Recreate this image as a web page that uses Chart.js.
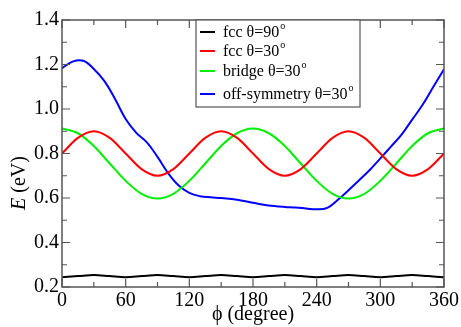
<!DOCTYPE html>
<html>
<head>
<meta charset="utf-8">
<script src="https://cdn.jsdelivr.net/npm/chart.js@4/dist/chart.umd.min.js"></script>
<style>
  html, body { margin: 0; padding: 0; background: #fff; }
  #wrap { width: 461px; height: 327px; }
</style>
</head>
<body>
<div id="wrap"><canvas id="energyGraph"></canvas></div>
<script>
// phi in degrees, energies in eV
const phi = [0, 15, 30, 45, 60, 75, 90, 105, 120, 135, 150, 165, 180,
             195, 210, 225, 240, 255, 270, 285, 300, 315, 330, 345, 360];
const fcc90 = [0.244, 0.249, 0.254, 0.249, 0.244, 0.249, 0.254, 0.249, 0.244, 0.249, 0.254, 0.249, 0.244,
               0.249, 0.254, 0.249, 0.244, 0.249, 0.254, 0.249, 0.244, 0.249, 0.254, 0.249, 0.244];
const fcc30 = [0.80, 0.87, 0.90, 0.87, 0.80, 0.73, 0.70, 0.73, 0.80, 0.87, 0.90, 0.87, 0.80,
               0.73, 0.70, 0.73, 0.80, 0.87, 0.90, 0.87, 0.80, 0.73, 0.70, 0.73, 0.80];
const bridge30 = [0.912, 0.891, 0.834, 0.755, 0.677, 0.619, 0.598, 0.619, 0.677, 0.755, 0.834, 0.891, 0.912,
                  0.891, 0.834, 0.755, 0.677, 0.619, 0.598, 0.619, 0.677, 0.755, 0.834, 0.891, 0.912];
// off-symmetry curve is read on a finer 10 degree grid
const phiOff = [0, 10, 20, 30, 40, 50, 60, 70, 80, 90, 100, 110, 120, 130, 140, 150, 160, 170, 180,
                190, 200, 210, 220, 230, 240, 250, 260, 270, 280, 290, 300, 310, 320, 330, 340, 350, 360];
const offSym30 = [1.183, 1.213, 1.217, 1.18, 1.125, 1.045, 0.955, 0.893, 0.850, 0.785, 0.712, 0.656, 0.623,
                  0.608, 0.603, 0.600, 0.595, 0.588, 0.579, 0.570, 0.564, 0.560, 0.557, 0.553, 0.549,
                  0.556, 0.592, 0.635, 0.680, 0.726, 0.778, 0.831, 0.885, 0.952, 1.02, 1.10, 1.178];

const seriesLabels = ['fcc θ=90', 'fcc θ=30', 'bridge θ=30', 'off-symmetry θ=30'];
const seriesColors = ['#000000', '#ff0000', '#00ee00', '#0000ff'];
const xTicks = [0, 60, 120, 180, 240, 300, 360];
const yTicks = [0.2, 0.4, 0.6, 0.8, 1.0, 1.2, 1.4];

const serif = "'Liberation Serif', 'DejaVu Serif', serif";
const frameColor = '#555555';

function points(xs, ys) {
    return xs.map((p, i) => ({x: p, y: ys[i]}));
}

const allSeries = [points(phi, fcc90), points(phi, fcc30), points(phi, bridge30), points(phiOff, offSym30)];

const energyData = {
    datasets: allSeries.map((s, i) => ({
        label: seriesLabels[i],
        data: s,
        borderColor: seriesColors[i],
        borderWidth: 2,
        pointRadius: 0,
        fill: false,
        // smooth bezier for the irregular blue curve
        cubicInterpolationMode: i === 3 ? 'default' : 'monotone',
        tension: 0.4
    }))
};

// box + inward ticks on all four sides, y title and legend box
const framePlugin = {
    id: 'frame',
    afterDatasetsDraw(chart) {
        const ctx = chart.ctx;
        const a = chart.chartArea;
        const xs = chart.scales.x, ys = chart.scales.y;
        ctx.save();
        ctx.strokeStyle = frameColor;
        ctx.lineWidth = 1.5;
        ctx.strokeRect(a.left, a.top, a.right - a.left, a.bottom - a.top);
        ctx.lineWidth = 1.2;
        ctx.beginPath();
        for (let v = 0; v <= 360; v += 30) {
            const px = xs.getPixelForValue(v);
            const len = (v % 60 === 0) ? 8 : 5;
            ctx.moveTo(px, a.bottom); ctx.lineTo(px, a.bottom - len);
            ctx.moveTo(px, a.top); ctx.lineTo(px, a.top + len);
        }
        for (let k = 2; k <= 14; k++) {
            const py = ys.getPixelForValue(k / 10);
            const len = (k % 2 === 0) ? 8 : 5;
            ctx.moveTo(a.left, py); ctx.lineTo(a.left + len, py);
            ctx.moveTo(a.right, py); ctx.lineTo(a.right - len, py);
        }
        ctx.stroke();
        ctx.restore();
    },
    afterDraw(chart) {
        const ctx = chart.ctx;
        const a = chart.chartArea;
        ctx.save();
        // y title: italic E + (eV)
        ctx.translate(20, 183);
        ctx.rotate(-Math.PI / 2);
        ctx.fillStyle = '#000';
        ctx.textBaseline = 'middle';
        const f1 = 'italic 20px ' + serif, f2 = '20px ' + serif;
        ctx.font = f1; const w1 = ctx.measureText('E').width;
        ctx.font = f2; const w2 = ctx.measureText(' (eV)').width;
        let x0 = -(w1 + w2) / 2;
        ctx.font = f1; ctx.fillText('E', x0, 0);
        ctx.font = f2; ctx.fillText(' (eV)', x0 + w1, 0);
        ctx.restore();

        // legend box
        ctx.save();
        const bx = 196, by = a.top, bw = 164, bh = 87;
        ctx.fillStyle = '#fff';
        ctx.fillRect(bx, by, bw, bh);
        ctx.strokeStyle = frameColor;
        ctx.lineWidth = 1.2;
        ctx.strokeRect(bx, by, bw, bh);
        const rows = [32, 51, 71, 94];
        chart.data.datasets.forEach((ds, i) => {
            const y = rows[i];
            ctx.strokeStyle = ds.borderColor;
            ctx.lineWidth = 2;
            ctx.beginPath();
            ctx.moveTo(200, y); ctx.lineTo(215, y);
            ctx.stroke();
            ctx.fillStyle = '#000';
            ctx.textBaseline = 'middle';
            ctx.font = '16px ' + serif;
            ctx.fillText(ds.label, 223, y + 1);
            const w = ctx.measureText(ds.label).width;
            ctx.font = '10px ' + serif;
            ctx.fillText('o', 223 + w + 1, y - 6);
        });
        ctx.restore();
    }
};

const config1 = {
    type: 'line',
    data: energyData,
    options: {
        responsive: true,
        maintainAspectRatio: false,
        animation: false,
        layout: { padding: { top: 20, right: 17, left: 0, bottom: 0 } },
        plugins: {
            legend: { display: false },
            tooltip: { enabled: false }
        },
        scales: {
            x: {
                type: 'linear',
                min: 0, max: 360,
                afterBuildTicks: (s) => { s.ticks = xTicks.map(v => ({value: v})); },
                afterFit: (s) => { s.height = 40; },
                grid: { display: false, drawTicks: false },
                border: { display: false },
                ticks: {
                    color: '#000',
                    font: { family: serif, size: 20 },
                    padding: 2,
                    maxRotation: 0,
                    callback: (v) => v
                },
                title: {
                    display: true,
                    text: 'ϕ (degree)',
                    color: '#000',
                    font: { family: serif, size: 20 },
                    padding: { top: 0, bottom: 0 }
                }
            },
            y: {
                type: 'linear',
                min: 0.2, max: 1.4,
                afterBuildTicks: (s) => { s.ticks = yTicks.map(v => ({value: v})); },
                afterFit: (s) => { s.width = 62; },
                grid: { display: false, drawTicks: false },
                border: { display: false },
                ticks: {
                    color: '#000',
                    font: { family: serif, size: 20 },
                    padding: 3,
                    callback: (v) => Number(v).toFixed(1)
                }
            }
        }
    },
    plugins: [framePlugin]
};

const chart1 = new Chart(document.getElementById('energyGraph'), config1);
</script>
</body>
</html>
